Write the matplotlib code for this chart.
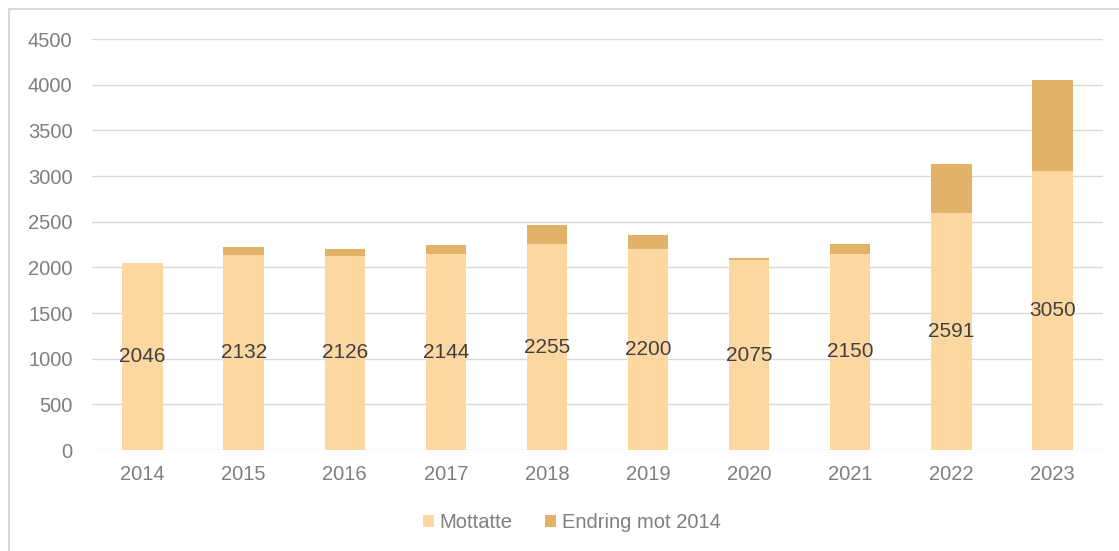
import matplotlib.pyplot as plt
from matplotlib.patches import Rectangle

plt.rcParams['font.family'] = ['Liberation Sans', 'DejaVu Sans']

years = ['2014', '2015', '2016', '2017', '2018', '2019', '2020', '2021', '2022', '2023']
mottatte = [2046, 2132, 2126, 2144, 2255, 2200, 2075, 2150, 2591, 3050]
endring = [0, 86, 80, 98, 209, 154, 29, 104, 545, 1004]

base_col = '#FDD7A1'
top_col = '#E2B268'

fig = plt.figure(figsize=(11.19, 5.51), dpi=100)
ax = fig.add_axes([0.0822, 0.1833, 0.9035, 0.7459])

x = range(len(years))
ax.bar(x, mottatte, width=0.4, color=base_col, label='Mottatte', zorder=2)
ax.bar(x, endring, width=0.4, bottom=mottatte, color=top_col, label='Endring mot 2014', zorder=2)

for xi, v in zip(x, mottatte):
    ax.text(xi, v / 2, str(v), ha='center', va='center', fontsize=15, color='#404040', zorder=3)

ax.set_xlim(-0.5, len(years) - 0.5)
ax.set_ylim(0, 4500)
ax.set_yticks(range(0, 4501, 500))
ax.set_xticks(list(x))
ax.set_xticklabels(years)
ax.tick_params(axis='both', length=0, labelsize=14.5, labelcolor='#7F7F7F')
ax.tick_params(axis='y', pad=14)
ax.tick_params(axis='x', pad=11)
ax.yaxis.grid(True, color='#D9D9D9', linewidth=1, zorder=0)
for s in ax.spines.values():
    s.set_visible(False)

leg = fig.legend(loc='center', bbox_to_anchor=(0.511, 0.052), ncol=2, frameon=False,
                 fontsize=14.5, handlelength=0.55, handleheight=0.55, handletextpad=0.3,
                 columnspacing=1.6)
for t in leg.get_texts():
    t.set_color('#7F7F7F')

# outer chart border, only left and top visible (cropped)
fig.patches.append(Rectangle((0.0076, -0.1), 1.2, 1.084, transform=fig.transFigure,
                             fill=False, edgecolor='#D9D9D9', linewidth=1.5))

fig.savefig('out.png', dpi=100)
